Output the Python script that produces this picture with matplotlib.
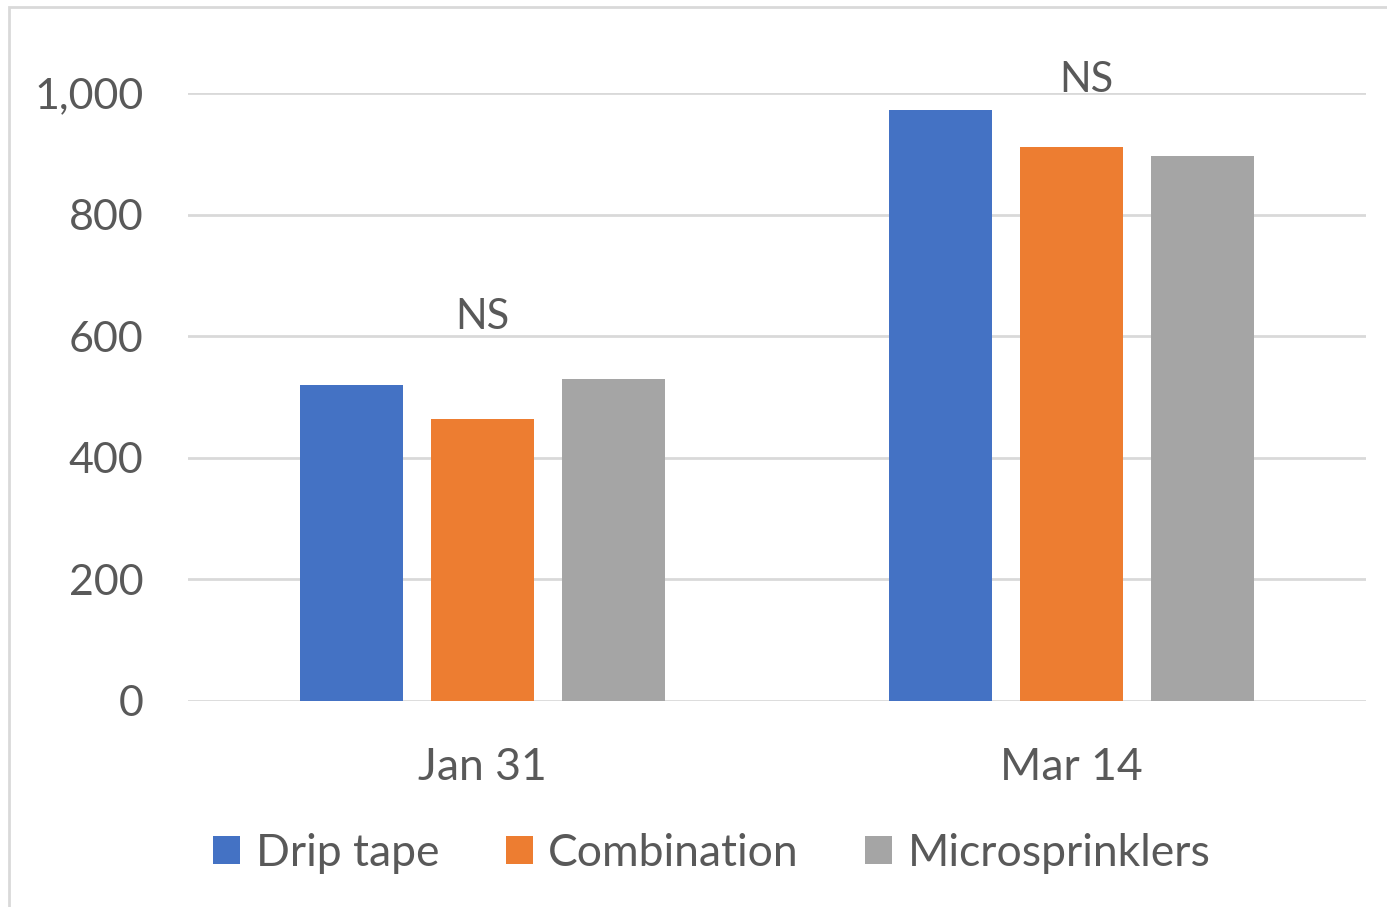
import matplotlib
matplotlib.use("Agg")
import matplotlib.pyplot as plt
import numpy as np

# data
dates = ["Jan 31", "Mar 14"]
series = ["Drip tape", "Combination", "Microsprinklers"]
drip_tape = [520, 972]
combination = [464, 911]
microsprinklers = [530, 896]
ns_labels = ["NS", "NS"]
ns_pos = [(0.0, 600), (1.025, 990)]

colors = ["#4472C4", "#ED7D31", "#A5A5A5"]
text_color = "#595959"
grid_color = "#D9D9D9"

plt.rcParams["font.family"] = ["Lato", "DejaVu Sans"]

fig = plt.figure(figsize=(13.87, 9.07), dpi=100)
ax = fig.add_axes([188 / 1387, 1 - 701 / 907, (1366 - 188) / 1387, (701 - 93) / 907])

# chart area border (only top/left visible in the reference)
fig.patches.append(plt.Rectangle((9 / 1387, -0.2), 1.2, 1.2 - 7 / 907, transform=fig.transFigure,
                                 fill=False, edgecolor=grid_color, linewidth=2))

x = np.arange(len(dates))
width = 0.175
step = width + 0.048
for i, (name, vals) in enumerate(zip(series, [drip_tape, combination, microsprinklers])):
    ax.bar(x + (i - 1) * step, vals, width, color=colors[i], label=name, zorder=3)

for (xx, yy), lab in zip(ns_pos, ns_labels):
    ax.text(xx, yy, lab, ha="center", va="bottom", fontsize=30, color=text_color, clip_on=False)

ax.set_xlim(-0.5, 1.5)
ax.set_ylim(0, 1000)
ax.set_yticks(np.arange(0, 1001, 200))
ax.set_yticklabels([f"{v:,}" for v in range(0, 1001, 200)])
ax.set_xticks(x)
ax.set_xticklabels(dates)
ax.tick_params(axis="both", length=0, colors=text_color)
ax.tick_params(axis="y", pad=32, labelsize=31)
ax.tick_params(axis="x", pad=33, labelsize=32)
ax.yaxis.grid(True, color=grid_color, linewidth=2, zorder=0)
for s in ax.spines.values():
    s.set_visible(False)

handles, labels = ax.get_legend_handles_labels()
fig.legend(handles, labels, loc="center", bbox_to_anchor=(712 / 1387, 1 - 853 / 907), ncol=3,
           frameon=False, fontsize=32, labelcolor=text_color, handlelength=0.6, handleheight=0.6,
           handletextpad=0.35, columnspacing=1.5)

fig.savefig("out.png", dpi=100)
